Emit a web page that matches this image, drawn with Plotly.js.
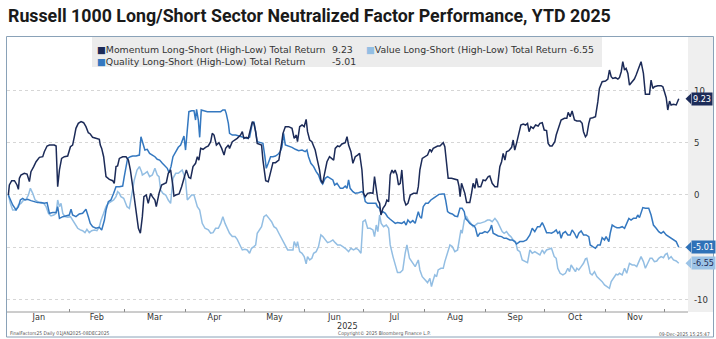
<!DOCTYPE html>
<html>
<head>
<meta charset="utf-8">
<script src="https://cdn.plot.ly/plotly-3.0.1.min.js"></script>
<style>html,body{margin:0;padding:0;background:#fff;}#chart{width:716px;height:339px;}</style>
</head>
<body>
<div id="chart"></div>
<script>
// x values are days since 1 Jan 2025 (trading calendar)
const momentumDay = [0,0.5,1.7,3.1,4.4,5.1,5.6,6.4,8.1,9.5,10.7,11.5,12.9,14.1,15.8,17.5,18.3,19.7,20.9,23.4,24.3,25.1,26.0,27.1,28.5,30.2,31.6,32.7,33.6,34.4,35.6,37.0,38.3,39.5,40.7,41.7,42.9,44.6,46.3,46.8,47.5,48.5,49.7,51.4,53.1,53.9,54.8,55.6,56.5,58.2,59.9,61.1,62.1,63.8,65.0,66.2,67.2,
68.2,69.0,70.2,71.2,72.4,73.3,74.6,75.3,76.7,78.0,79.2,80.4,81.4,82.6,83.8,84.3,85.2,86.9,88.2,89.4,90.6,91.9,92.8,94.0,95.3,96.2,97.0,97.9,99.1,100.4,101.8,103.0,103.8,104.7,105.9,107.2,108.6,109.8,110.6,112.0,112.6,114.0,115.4,116.5,118.2,119.1,119.9,121.1,122.1,123.3,124.2,125.0,125.9,126.7,127.9,128.9,129.6,131.0,132.3,133.5,134.7,136.0,137.7,139.1,
139.8,141.0,142.7,144.4,145.5,146.6,147.2,148.3,149.5,150.6,151.6,152.3,153.4,154.5,155.4,156.2,157.1,158.4,159.1,160.0,161.0,162.2,163.5,164.7,165.6,166.4,167.6,168.6,169.8,171.5,172.4,173.2,174.4,175.4,176.6,177.8,178.8,180.0,180.8,181.7,182.9,184.2,185.6,186.4,187.3,188.1,189.0,189.7,190.7,191.9,192.7,193.6,194.4,195.3,196.1,196.9,197.8,198.6,199.5,200.3,201.5,202.4,203.4,204.6,206.3,208.0,
208.7,209.5,210.7,212.0,213.4,214.6,215.4,216.3,217.1,218.5,219.7,221.4,222.2,223.1,223.9,225.6,227.3,228.7,229.4,230.0,230.7,231.6,232.4,233.3,234.9,235.8,236.6,237.5,238.3,239.2,240.5,241.7,242.9,244.3,245.1,246.3,247.7,249.0,250.2,251.1,251.9,252.8,253.6,254.8,256.2,257.0,257.8,258.7,259.9,260.9,262.1,263.3,264.3,265.1,266.0,267.2,268.4,269.7,270.6,271.8,272.8,274.0,274.8,275.7,276.8,278.2,
278.9,280.2,281.4,283.1,284.3,285.0,286.0,287.0,288.2,289.4,291.1,292.1,292.8,293.8,294.5,295.5,296.2,297.5,298.9,300.1,300.9,302.3,304.0,305.2,306.0,306.9,307.7,309.1,310.3,311.1,312.0,312.8,313.7,314.5,315.4,316.2,317.6,318.7,319.6,320.4,321.3,322.1,323.3,324.3,325.5,326.4,327.2,328.1,328.9,330.6,332.3,333.2,334.0,334.9,335.7,336.6,337.4,338.6,340.0,340.8,341.3];
const momentumValue = [0,0.96,1.37,1.37,0.96,0.54,1.60,1.92,2.08,2.01,1.28,2.24,2.72,3.19,3.61,3.67,4.15,4.70,4.79,4.79,4.70,0.80,2.40,3.51,3.67,3.74,4.63,4.79,5.59,6.39,6.87,7.03,6.93,6.55,5.97,5.85,5.53,5.43,5.34,4.79,4.47,3.67,1.76,1.50,1.37,1.12,2.72,2.78,3.51,3.67,3.67,3.35,2.40,0.16,-1.76,-3.19,-3.67,
-2.08,-0.16,0.00,-0.80,0.16,-0.16,-0.48,-1.12,0.16,0.96,1.05,1.18,2.08,2.40,0.80,-0.10,0.00,0.10,0.80,1.60,2.40,1.69,1.60,2.72,3.04,3.67,3.35,4.47,4.38,4.57,4.70,5.11,5.91,5.75,4.79,5.02,4.47,3.83,4.47,4.79,4.47,5.11,5.27,5.43,5.75,6.07,5.43,5.53,5.43,6.55,7.03,6.87,6.07,4.95,4.89,4.79,3.35,1.37,1.28,2.08,3.10,3.10,3.35,4.95,
5.91,6.55,6.55,6.39,5.43,5.75,5.11,6.55,6.71,6.55,7.25,6.07,5.27,5.11,4.63,4.31,3.51,2.40,1.44,1.12,2.08,3.19,3.67,3.51,3.35,4.47,4.70,4.63,4.89,5.02,5.59,4.79,4.15,3.04,3.67,3.83,3.99,2.40,0.16,-0.16,0.16,0.22,0.16,1.76,0.48,-0.48,-0.80,-1.92,-1.28,-0.96,-0.48,-0.64,1.92,2.40,2.08,2.40,1.92,0.96,1.12,2.40,-0.48,-0.96,-0.80,0.00,0.16,0.16,
0.80,2.40,3.51,3.67,3.83,4.38,4.15,4.47,4.57,4.70,4.70,5.02,4.63,2.72,1.60,1.60,1.50,1.44,0.86,-0.16,1.12,0.64,0.16,-0.73,-0.73,0.16,1.12,0.64,1.60,0.80,0.80,1.44,1.37,1.76,1.82,1.12,0.80,0.80,2.72,3.19,3.99,3.35,4.15,4.25,4.57,5.27,4.31,4.95,6.07,6.71,6.81,6.71,6.87,6.07,6.55,6.39,6.71,6.61,6.87,6.93,6.23,6.17,4.95,4.70,4.70,5.11,
5.75,6.55,7.19,7.35,7.35,7.92,7.51,8.05,7.19,7.09,7.09,6.87,6.07,5.59,5.75,6.87,7.35,7.41,7.51,8.95,10.22,10.86,10.93,11.12,11.98,11.34,11.18,11.25,11.12,11.25,11.82,12.78,11.98,12.14,11.66,10.54,10.93,11.12,11.50,11.98,12.30,12.78,11.66,9.65,9.65,9.65,11.02,10.22,10.38,10.48,10.48,10.38,9.90,9.33,8.15,9.01,8.63,8.69,8.63,8.95,9.23];

const qualityDay = [0,1.0,2.2,3.9,5.1,6.1,7.3,8.5,9.8,11.5,13.2,14.9,16.6,18.3,19.7,20.9,22.6,24.3,25.1,26.0,27.7,29.3,31.0,31.9,32.7,34.4,36.1,37.8,39.5,40.7,41.7,42.9,44.6,46.3,47.5,48.9,49.7,50.9,52.2,53.6,54.8,56.5,58.2,59.0,59.9,60.7,62.1,63.3,65.0,66.7,67.5,
68.2,69.5,70.7,71.9,73.3,74.6,75.8,77.0,78.4,79.7,80.9,81.8,82.8,83.8,85.2,86.5,87.7,88.5,89.4,90.2,91.1,91.9,93.3,94.5,95.3,95.8,96.7,97.4,98.2,99.6,101.3,103.0,104.7,106.4,108.1,109.2,110.3,110.9,112.0,112.6,114.0,115.7,117.4,118.7,119.9,121.6,122.8,124.2,125.0,125.9,126.7,128.4,129.6,130.6,131.3,132.3,133.5,134.7,136.0,137.4,
138.4,139.3,140.1,141.0,142.7,144.4,146.1,147.8,149.5,151.1,152.0,152.8,154.0,155.4,156.7,157.9,159.1,160.0,161.3,162.5,163.9,165.2,166.1,167.3,169.0,170.3,171.5,172.4,173.2,174.0,175.4,176.6,178.3,180.0,180.8,181.7,182.9,184.2,185.9,187.1,187.9,189.0,189.7,190.7,191.9,193.0,194.4,195.8,197.0,198.1,199.2,200.3,201.5,202.5,203.4,204.6,205.9,207.1,208.0,
208.7,209.5,210.3,211.2,212.4,213.7,215.1,216.3,217.5,219.2,220.9,221.9,222.6,223.6,224.8,226.0,227.3,228.7,229.9,231.0,232.1,232.7,233.8,234.9,236.1,237.2,237.8,238.9,240.0,241.2,242.6,243.9,245.1,246.0,246.8,248.0,249.4,251.1,252.4,253.6,255.3,256.5,257.8,258.7,259.5,260.4,262.1,263.8,265.5,266.7,268.0,269.4,270.6,271.8,272.8,274.0,275.2,276.5,277.9,
278.9,279.7,280.6,281.4,282.3,283.6,284.8,286.0,287.0,288.2,289.4,290.4,291.6,292.8,294.1,295.5,296.2,297.5,298.9,300.1,301.3,302.3,303.5,304.3,305.7,306.4,307.4,308.6,309.8,311.1,312.5,313.7,314.8,315.9,317.0,318.2,319.6,320.4,321.3,322.1,323.0,324.3,326.0,327.2,328.4,329.8,331.1,332.3,333.5,334.9,336.2,337.4,338.6,340.0,341.3];
const qualityValue = [0,-0.48,-0.96,-1.44,-1.12,-0.48,-0.32,-0.48,-0.42,-0.54,-0.64,-0.73,-0.73,-0.80,-0.73,-1.76,-1.69,-1.69,-1.12,-2.24,-2.08,-2.01,-1.92,-1.37,-1.92,-2.08,-1.82,-1.76,-1.37,-2.08,-2.72,-3.04,-3.19,-3.10,-3.35,-2.40,-1.44,-0.64,-0.48,0.16,0.80,0.80,0.86,1.76,2.72,3.51,3.67,3.74,3.74,3.83,5.59,
5.11,4.31,4.38,3.99,3.83,3.67,3.42,3.35,3.04,2.78,2.56,2.14,2.72,3.67,4.15,4.57,4.79,5.27,5.65,4.31,6.71,7.99,8.08,8.08,7.19,8.21,7.19,5.53,8.15,8.08,7.99,7.99,7.99,7.99,7.99,8.15,8.15,7.83,6.87,5.91,5.75,5.75,5.65,5.59,5.53,5.43,5.53,6.87,7.03,6.07,5.11,5.02,4.95,3.67,2.56,3.04,3.67,3.67,3.74,3.93,
4.15,4.63,5.91,4.79,4.70,4.57,4.38,4.25,4.31,4.15,4.31,3.67,3.04,2.72,2.24,1.92,1.28,1.05,1.60,1.76,1.60,1.44,0.96,1.12,0.64,0.64,0.86,0.64,1.44,0.64,0.32,0.16,0.22,0.32,0.16,-0.64,-0.80,-0.80,-0.86,-0.80,-1.12,-1.28,-1.76,-1.60,-1.76,-2.08,-2.33,-2.56,-2.72,-2.65,-2.72,-2.72,-2.56,-2.88,-2.40,-2.65,-2.46,-2.72,-2.08,
-1.60,-2.08,-2.24,-1.12,-0.80,-0.80,-0.48,-0.32,-0.16,0.06,0.10,0.10,-0.48,-1.60,-1.76,-1.82,-2.01,-2.08,-1.28,-1.28,-1.60,-2.24,-2.46,-2.72,-2.88,-2.97,-3.19,-3.99,-3.67,-3.67,-3.51,-3.61,-3.35,-2.88,-3.67,-3.83,-3.93,-3.99,-4.15,-4.15,-4.31,-4.31,-4.47,-4.70,-4.57,-4.47,-4.47,-4.31,-3.83,-3.19,-3.51,-3.04,-3.04,-2.65,-3.04,-3.61,-3.61,-3.67,-3.51,
-3.35,-3.67,-3.51,-4.15,-3.67,-3.51,-3.83,-3.83,-3.35,-3.67,-4.15,-3.67,-3.45,-3.83,-3.83,-3.99,-4.79,-4.95,-5.11,-4.79,-4.79,-4.09,-4.31,-3.99,-4.47,-3.67,-2.88,-3.04,-3.13,-3.13,-3.04,-3.19,-2.72,-2.24,-2.40,-2.24,-2.24,-1.92,-2.17,-1.60,-1.21,-1.28,-1.28,-1.92,-2.88,-3.19,-3.51,-3.67,-3.51,-3.83,-3.99,-4.22,-4.31,-4.47,-5.01];

const valueDay = [0,1.0,2.2,3.9,5.1,6.4,7.8,9.0,10.2,11.2,12.4,13.6,14.9,16.6,18.0,19.2,20.4,21.7,23.1,24.3,25.1,26.0,26.8,27.7,28.8,30.2,31.6,32.7,33.9,35.3,36.6,37.8,39.0,40.0,41.2,42.4,43.8,45.1,46.3,47.2,48.5,49.7,50.9,52.2,53.6,54.8,55.6,56.5,57.3,58.7,59.4,60.4,61.6,62.4,64.1,65.5,66.7,67.8,
68.2,69.5,70.7,71.9,73.3,74.6,75.8,76.7,77.5,78.7,80.1,81.4,82.6,83.8,85.2,86.5,87.7,88.5,89.4,90.2,91.1,91.9,93.3,94.5,95.3,96.2,97.4,98.7,100.1,101.8,103.0,104.2,105.5,106.9,108.1,109.2,110.3,111.4,112.6,114.0,115.4,116.5,117.7,119.1,120.4,121.6,122.8,123.8,125.0,125.9,126.7,127.6,128.9,130.1,131.3,132.7,134.0,135.2,136.4,137.7,139.1,
139.8,141.0,142.2,143.5,144.9,145.5,146.6,147.2,148.3,149.5,150.6,151.6,152.3,153.4,154.5,155.4,156.7,157.9,159.1,160.1,161.3,162.5,163.9,165.2,166.4,167.6,169.0,170.3,171.5,173.2,174.4,175.7,177.1,178.3,179.5,180.5,181.7,182.9,184.2,185.6,186.4,187.3,188.1,189.0,189.8,191.0,192.4,193.6,194.4,195.8,197.0,198.1,199.5,200.8,202.0,202.9,204.2,205.4,207.1,
208.7,209.5,210.7,212.0,213.4,214.6,215.4,216.3,217.1,218.0,218.8,220.2,221.4,222.2,223.6,224.8,226.0,227.3,228.7,229.4,230.4,231.0,232.1,233.3,234.1,235.5,236.6,237.8,238.9,240.0,241.2,242.6,243.9,245.1,246.3,247.7,249.0,250.2,251.4,252.4,253.6,254.8,255.8,257.0,258.2,259.2,260.4,261.6,263.0,264.3,265.5,266.7,268.0,269.4,270.6,271.8,272.8,274.0,275.2,276.5,277.9,
278.9,279.7,280.9,282.3,283.6,284.8,285.7,286.5,287.7,288.7,289.4,290.4,291.6,292.8,293.8,294.5,295.5,296.2,297.2,298.4,299.6,300.9,302.3,303.5,304.7,306.0,306.9,308.1,309.4,310.3,311.1,312.5,313.7,314.8,316.2,317.6,318.7,319.9,321.0,322.1,323.3,324.3,325.5,326.7,327.7,328.9,330.1,331.1,332.3,333.5,334.5,335.4,336.2,337.4,338.6,340.0,341.3];
const valueValue = [0,-0.80,-1.44,-1.44,-0.96,-0.80,-0.48,-0.42,0.00,0.64,0.16,-0.48,-0.64,-0.80,-0.80,-1.12,-1.76,-2.01,-1.92,-1.76,-0.48,-1.12,-0.80,-1.76,-2.08,-2.14,-2.08,-2.40,-2.72,-3.19,-3.35,-3.42,-3.61,-3.29,-3.61,-3.42,-3.35,-3.42,-3.04,-2.40,-1.76,-1.12,-0.80,-0.64,-0.48,-0.16,0.32,0.16,-0.16,-0.32,-0.64,-1.12,-1.28,-0.48,1.44,2.40,2.72,2.24,
1.92,2.08,2.24,1.76,1.92,2.56,1.92,1.76,0.48,0.16,0.00,-0.48,-0.80,1.60,2.08,2.08,2.24,2.40,1.92,1.44,-0.48,-0.32,0.00,0.00,-0.48,-1.12,-1.44,-2.72,-3.19,-3.35,-3.67,-3.61,-3.19,-3.19,-2.72,-2.08,-2.72,-3.19,-3.67,-3.99,-3.99,-4.25,-4.79,-5.27,-5.21,-5.27,-5.59,-5.11,-4.95,-4.79,-3.67,-3.35,-3.04,-2.08,-1.92,-2.24,-2.56,-3.04,-3.19,-3.67,-4.15,
-4.47,-4.95,-5.27,-5.27,-5.27,-4.47,-4.95,-4.47,-5.43,-5.59,-5.91,-6.61,-5.91,-6.23,-6.07,-5.59,-5.43,-4.95,-3.83,-3.99,-4.31,-4.57,-4.47,-4.31,-4.57,-4.79,-4.79,-4.95,-5.11,-5.43,-5.11,-5.27,-5.11,-5.27,-5.59,-2.56,-2.40,-3.19,-3.19,-3.35,-3.99,-2.88,-3.51,-1.92,-2.72,-3.04,-2.88,-3.19,-4.79,-5.91,-6.87,-7.44,-7.44,-7.19,-5.59,-4.79,-6.07,-6.39,-6.87,
-6.23,-7.19,-7.83,-8.15,-8.40,-7.99,-8.79,-8.15,-7.67,-7.83,-7.19,-7.03,-7.03,-6.39,-5.59,-4.79,-4.95,-5.43,-5.27,-4.47,-3.35,-3.67,-2.40,-2.08,-2.40,-2.72,-3.04,-2.88,-2.72,-2.72,-2.65,-2.56,-2.40,-2.40,-2.56,-2.24,-2.56,-3.04,-3.51,-3.67,-3.51,-3.83,-3.99,-4.31,-4.47,-5.27,-5.43,-6.23,-6.39,-6.49,-5.27,-5.59,-5.43,-5.59,-5.75,-5.27,-5.59,-5.27,-5.21,-5.11,-5.91,
-6.07,-7.03,-7.51,-7.67,-7.51,-7.03,-7.35,-6.71,-7.03,-7.35,-7.03,-7.19,-6.87,-6.55,-6.13,-6.07,-6.87,-7.51,-7.67,-7.35,-7.83,-8.05,-8.31,-8.63,-8.79,-8.95,-8.31,-7.99,-7.60,-7.67,-7.51,-7.67,-7.03,-7.51,-6.55,-6.71,-6.71,-6.87,-6.33,-5.91,-6.39,-7.03,-6.55,-6.07,-6.07,-6.39,-6.33,-6.07,-5.91,-6.01,-5.69,-5.59,-6.13,-5.91,-6.23,-6.33,-6.55];

const seriesNames = ['Momentum Long-Short (High-Low) Total Return','Quality Long-Short (High-Low) Total Return','Value Long-Short (High-Low) Total Return'];
const lastValues = ['9.23','-5.01','-6.55'];
const monthNames = ['Jan','Feb','Mar','Apr','May','Jun','Jul','Aug','Sep','Oct','Nov','Dec'];
const monthStarts = [0,31,59,90,120,151,181,212,243,273,304,334,365];
const yTicks = [-10,-5,0,5,10];
const yTickText = ['-10','','0','5','10']; // the -5 label sits behind the Quality value tag

const colors = ['#1c2b58','#3478c0','#93bee3'];
const labelFont = "'Liberation Sans Narrow','DejaVu Sans Condensed','Arial Narrow',sans-serif";
const legFont = "'DejaVu Sans',Verdana,sans-serif";

// plot geometry (px)
const W=716,H=339,L=7,R=28,T=37,B=27;
const pw=W-L-R, ph=H-T-B;
const px=x=>(x-L)/pw, py=y=>(H-B-y)/ph;

const mids = monthNames.slice(0,11).map((m,i)=>(monthStarts[i]+monthStarts[i+1])/2);

const traces = [
  {x:valueDay,y:valueValue,name:seriesNames[2],line:{color:colors[2],width:1.5}},
  {x:qualityDay,y:qualityValue,name:seriesNames[1],line:{color:colors[1],width:1.5}},
  {x:momentumDay,y:momentumValue,name:seriesNames[0],line:{color:colors[0],width:1.5}}
].map(t=>Object.assign(t,{type:'scatter',mode:'lines',hoverinfo:'skip'}));

const sq = c=>`<span style="color:${c}">■</span>`;
const legTxt = {font:{family:legFont,size:9.35,color:'#333'},xref:'paper',yref:'paper',xanchor:'left',yanchor:'middle',showarrow:false};
const tagY = [9.23,-5.01,-6.55];
const tagBg = [colors[0],'#2f72b8','#9cc3e6'];
const tagFg = ['#fff','#fff','#1c2b58'];
const small = {xref:'paper',yref:'paper',yanchor:'middle',showarrow:false,font:{family:labelFont,size:5,color:'#555'}};

const annotations = [
  Object.assign({x:px(95),y:py(50),text:sq(colors[0])+seriesNames[0]},legTxt),
  Object.assign({x:px(330),y:py(50),text:lastValues[0]},legTxt),
  Object.assign({x:px(95),y:py(61.5),text:sq(colors[1])+seriesNames[1]},legTxt),
  Object.assign({x:px(330),y:py(61.5),text:lastValues[1]},legTxt),
  Object.assign({x:px(364),y:py(50),text:sq(colors[2])+seriesNames[2]+' '+lastValues[2]},legTxt),
  {x:px(347),y:py(326),xref:'paper',yref:'paper',yanchor:'middle',text:'2025',showarrow:false,font:{family:labelFont,size:9,color:'#333'}},
  Object.assign({x:px(8),y:py(333.5),xanchor:'left',text:'FinalFactors25 Daily 01JAN2025-08DEC2025'},small),
  Object.assign({x:px(384),y:py(333.5),text:'Copyright© 2025 Bloomberg Finance L.P.'},small),
  Object.assign({x:px(712),y:py(333.5),xanchor:'right',text:'09-Dec-2025 15:25:47'},small)
];
tagY.forEach((v,i)=>annotations.push({x:px(690.5),y:v,xref:'paper',yref:'y',xanchor:'left',yanchor:'middle',text:lastValues[i],showarrow:false,bgcolor:tagBg[i],borderpad:1,font:{family:labelFont,size:9,color:tagFg[i]}}));

const shapes = [
  {type:'rect',xref:'paper',yref:'paper',x0:1,x1:px(713),y0:0,y1:1,fillcolor:'#efefef',line:{width:0},layer:'below'},
  {type:'rect',xref:'paper',yref:'paper',x0:px(92),x1:px(602),y0:py(67),y1:1,fillcolor:'#ececec',line:{width:0},layer:'below'},
  {type:'rect',xref:'paper',yref:'paper',x0:px(6.5),x1:px(713.5),y0:py(337),y1:py(36.5),line:{color:'#8aa2b8',width:1}},
  {type:'line',xref:'paper',yref:'paper',x0:0,x1:1,y0:0,y1:0,line:{color:'#9a9a9a',width:1}}
];
tagY.forEach((v,i)=>{
  const x0=px(685.5),x1=px(691),dy=0.5;
  shapes.push({type:'path',xref:'paper',yref:'y',path:`M ${x0},${v} L ${x1},${v+dy} L ${x1},${v-dy} Z`,fillcolor:tagBg[i],line:{width:0}});
});

const layout = {
  width:W,height:H,margin:{l:L,r:R,t:T,b:B,pad:0},
  paper_bgcolor:'#fff',plot_bgcolor:'rgba(0,0,0,0)',
  showlegend:false,
  title:{text:'Russell 1000 Long/Short Sector Neutralized Factor Performance, YTD 2025',x:8/W,xanchor:'left',xref:'container',y:1-16/H,yanchor:'middle',yref:'container',
    font:{family:'Roboto, sans-serif',size:17.8,weight:700,color:'#1a1a1a'}},
  xaxis:{range:[-0.7,346],tickmode:'array',tickvals:mids,ticktext:monthNames.slice(0,11),ticks:'',showgrid:false,zeroline:false,showline:false,
    tickfont:{family:labelFont,size:9,color:'#333'},ticklabelstandoff:-2,
    minor:{tickmode:'array',tickvals:monthStarts.slice(1,12),ticks:'inside',ticklen:3,tickcolor:'#888',showgrid:false}},
  yaxis:{side:'right',range:[-11.22,15.15],tickmode:'array',tickvals:yTicks,ticktext:yTickText,ticks:'',showgrid:true,gridcolor:'#d6d6d6',griddash:'dot',gridwidth:1,zeroline:false,showline:false,
    tickfont:{family:labelFont,size:9.5,color:'#333'},ticklabelstandoff:5},
  annotations:annotations,shapes:shapes
};
Plotly.newPlot('chart',traces,layout,{staticPlot:true,displayModeBar:false});
</script>
</body>
</html>
